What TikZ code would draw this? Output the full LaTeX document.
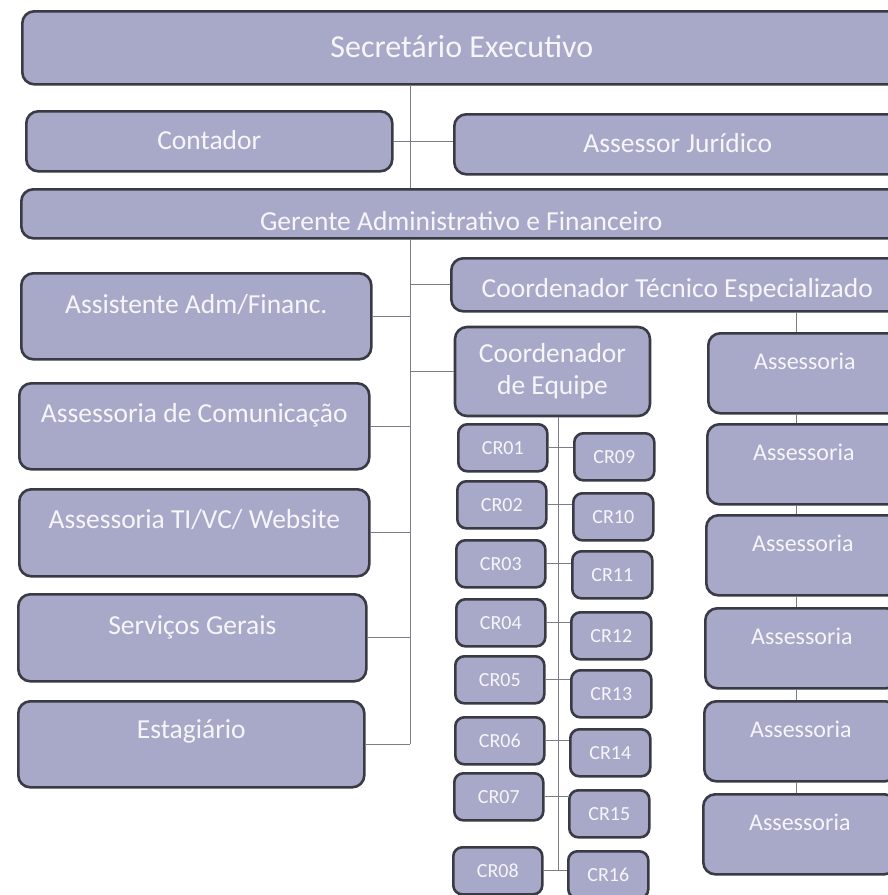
\documentclass[tikz,border=0pt]{standalone}
\usepackage{fontspec}
\setmainfont{Carlito}
\usepackage{tikz}

\definecolor{orgfill}{RGB}{168,168,200}
\definecolor{orgline}{RGB}{58,58,68}
\definecolor{orgtext}{RGB}{246,246,250}
\definecolor{conncol}{RGB}{125,125,135}

\tikzset{
  orgbox/.style={draw=orgline, line width=2.6pt, fill=orgfill, rounded corners=12pt,
    anchor=north west, inner ysep=0pt, inner xsep=4pt, text=orgtext,
    font=\fontsize{27.5}{32}\selectfont},
  crbox/.style={orgbox, rounded corners=9pt, minimum height=47pt,
    text height=30pt, text depth=17pt, font=\fontsize{20}{24}\selectfont},
  assbox/.style={orgbox, minimum width=193pt, minimum height=80pt,
    text height=36pt, text depth=44pt, font=\fontsize{24}{29}\selectfont},
  conn/.style={draw=conncol, line width=0.9pt}
}

\begin{document}
\begin{tikzpicture}[x=1pt,y=-1pt]
\useasboundingbox (0,0) rectangle (888,895);
\fill[white] (0,0) rectangle (888,895);
\clip (0,0) rectangle (888,895);

% top of the chart
\node[orgbox, minimum width=879pt, minimum height=73pt, text height=46pt, text depth=27pt,
  font=\fontsize{32}{38}\selectfont] (sec) at (21,10) {Secretário Executivo};
\node[orgbox, minimum width=366pt, minimum height=60pt, text height=38pt, text depth=22pt] (cont) at (25,110) {Contador};
\node[orgbox, minimum width=447pt, minimum height=60pt, text height=38pt, text depth=22pt] (jur) at (453,113) {Assessor Jurídico};
\node[orgbox, minimum width=880pt, minimum height=49pt, text height=41pt, text depth=8pt] (ger) at (20,188) {Gerente Administrativo e Financeiro};
\node[orgbox, minimum width=452pt, minimum height=53pt, text height=39pt, text depth=14pt] (tec) at (450,257) {Coordenador Técnico Especializado};

% left column
\node[orgbox, minimum width=350pt, minimum height=86pt, text height=40pt, text depth=46pt] (assist) at (20,272) {Assistente Adm/Financ.};
\node[orgbox, minimum width=350pt, minimum height=86pt, text height=39pt, text depth=47pt] (comun) at (18,382) {Assessoria de Comunicação};
\node[orgbox, minimum width=350pt, minimum height=87pt, text height=39pt, text depth=48pt] (ti) at (18,488) {Assessoria TI/VC/ Website};
\node[orgbox, minimum width=348pt, minimum height=87pt, text height=40pt, text depth=47pt] (serv) at (17,593) {Serviços Gerais};
\node[orgbox, minimum width=346pt, minimum height=86pt, text height=37pt, text depth=49pt] (estag) at (17,700) {Estagiário};

% team coordinator
\node[orgbox, minimum width=195pt, minimum height=89pt, align=center, anchor=center] (equipe) at (552.5,371.5) {Coordenador\\de Equipe};

% CR boxes
\node[crbox, minimum width=89pt] (cr01) at (457,423) {CR01};
\node[crbox, minimum width=89pt] (cr02) at (456,480) {CR02};
\node[crbox, minimum width=89pt] (cr03) at (455,539) {CR03};
\node[crbox, minimum width=89pt] (cr04) at (455,598) {CR04};
\node[crbox, minimum width=89pt] (cr05) at (454,655) {CR05};
\node[crbox, minimum width=89pt] (cr06) at (454,716) {CR06};
\node[crbox, minimum width=89pt] (cr07) at (453,772) {CR07};
\node[crbox, minimum width=89pt] (cr08) at (452,846) {CR08};
\node[crbox, minimum width=80pt] (cr09) at (573,432) {CR09};
\node[crbox, minimum width=80pt] (cr10) at (572,492) {CR10};
\node[crbox, minimum width=80pt] (cr11) at (571,550) {CR11};
\node[crbox, minimum width=80pt] (cr12) at (570,611) {CR12};
\node[crbox, minimum width=80pt] (cr13) at (570,669) {CR13};
\node[crbox, minimum width=80pt] (cr14) at (569,728) {CR14};
\node[crbox, minimum width=80pt] (cr15) at (568,789) {CR15};
\node[crbox, minimum width=80pt] (cr16) at (567,850) {CR16};

% right column
\node[assbox] (ass1) at (707,332) {Assessoria};
\node[assbox] (ass2) at (706,423) {Assessoria};
\node[assbox] (ass3) at (705,514) {Assessoria};
\node[assbox] (ass4) at (704,607) {Assessoria};
\node[assbox] (ass5) at (703,700) {Assessoria};
\node[assbox] (ass6) at (702,793) {Assessoria};

% connectors
\coordinate (trunk) at (410,0);
\coordinate (crx) at (558,0);
\coordinate (assx) at (796,0);
\draw[conn] (sec.south -| trunk) -- (ger.north -| trunk);
\draw[conn] (cont.east) -- (cont.east -| jur.west);
\draw[conn] (ger.south -| trunk) -- (estag.east -| trunk);
\draw[conn] (assist.east) -- (assist.east -| trunk);
\draw[conn] (comun.east) -- (comun.east -| trunk);
\draw[conn] (ti.east) -- (ti.east -| trunk);
\draw[conn] (serv.east) -- (serv.east -| trunk);
\draw[conn] (estag.east) -- (estag.east -| trunk);
\draw[conn] (trunk |- tec.west) -- (tec.west);
\draw[conn] (trunk |- equipe.west) -- (equipe.west);

\draw[conn] (equipe.south -| crx) -- (cr08.east -| crx);
\draw[conn] (cr01.east) -- (cr01.east -| cr09.west);
\draw[conn] (cr02.east) -- (cr02.east -| cr10.west);
\draw[conn] (cr03.east) -- (cr03.east -| cr11.west);
\draw[conn] (cr04.east) -- (cr04.east -| cr12.west);
\draw[conn] (cr05.east) -- (cr05.east -| cr13.west);
\draw[conn] (cr06.east) -- (cr06.east -| cr14.west);
\draw[conn] (cr07.east) -- (cr07.east -| cr15.west);
\draw[conn] (cr08.east) -- (cr08.east -| cr16.west);

\draw[conn] (tec.south -| assx) -- (ass1.north -| assx);
\draw[conn] (ass1.south -| assx) -- (ass2.north -| assx);
\draw[conn] (ass2.south -| assx) -- (ass3.north -| assx);
\draw[conn] (ass3.south -| assx) -- (ass4.north -| assx);
\draw[conn] (ass4.south -| assx) -- (ass5.north -| assx);
\draw[conn] (ass5.south -| assx) -- (ass6.north -| assx);
\end{tikzpicture}
\end{document}
